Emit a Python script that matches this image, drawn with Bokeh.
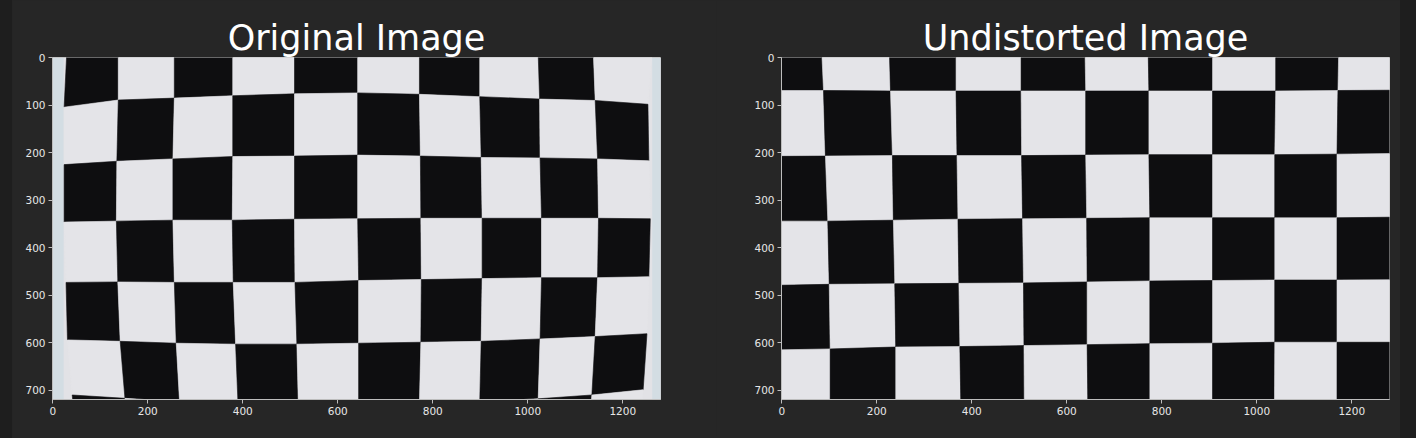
from bokeh.plotting import figure
from bokeh.layouts import row
from bokeh.models import Range1d, FixedTicker, GlobalInlineStyleSheet
from bokeh.embed import file_html
from bokeh.resources import INLINE

# Image is 1280 x 720 px, y axis runs downward like imshow
IMG_W = 1280
IMG_H = 720

titles = ["Original Image", "Undistorted Image"]
x_ticks = [0, 200, 400, 600, 800, 1000, 1200]
y_ticks = [0, 100, 200, 300, 400, 500, 600, 700]

# corner lattice of the distorted board: one list per horizontal grid line,
# one entry per vertical grid line (image px)
orig_x = [
    [31, 138, 256, 379, 509, 642, 772, 899, 1021, 1137, 1264],
    [24, 138, 256, 379, 509, 642, 772, 899, 1025, 1142, 1253],
    [24, 135, 253, 379, 509, 642, 774, 902, 1026, 1147, 1255],
    [24, 134, 253, 378, 509, 642, 775, 904, 1029, 1149, 1258],
    [28, 137, 256, 380, 510, 644, 776, 904, 1029, 1147, 1255],
    [31, 142, 260, 385, 514, 644, 775, 902, 1026, 1142, 1251],
    [41, 152, 267, 390, 517, 644, 772, 899, 1022, 1135, 1243],
    [48, 158, 272, 394, 520, 645, 770, 897, 1018, 1130, 1236],
]
orig_y = [
    [-40, -40, -40, -40, -40, -40, -40, -40, -40, -40, -40],
    [104, 89, 85, 80, 76, 74, 77, 82, 87, 90, 98],
    [225, 218, 213, 208, 207, 205, 207, 210, 211, 213, 217],
    [346, 344, 342, 342, 340, 339, 338, 338, 338, 338, 339],
    [473, 472, 473, 473, 473, 469, 467, 465, 463, 463, 461],
    [594, 597, 601, 603, 603, 601, 599, 597, 592, 587, 581],
    [710, 717, 724, 727, 729, 729, 727, 724, 718, 710, 699],
    [780, 780, 780, 780, 780, 780, 780, 780, 780, 780, 780],
]

# same board after cv2.undistort
und_x = [
    [-60, 83, 226, 367, 504, 638, 771, 907, 1040, 1173, 1340],
    [-60, 88, 229, 367, 504, 640, 773, 907, 1040, 1171, 1340],
    [-60, 92, 233, 369, 505, 640, 773, 907, 1038, 1169, 1340],
    [-60, 97, 235, 371, 507, 642, 775, 907, 1038, 1169, 1340],
    [-60, 100, 238, 373, 509, 643, 775, 907, 1038, 1169, 1340],
    [-60, 102, 240, 375, 510, 643, 775, 907, 1038, 1169, 1340],
    [-60, 102, 240, 378, 511, 645, 775, 907, 1037, 1169, 1340],
]
und_y = [
    [-40, -40, -40, -40, -40, -40, -40, -40, -40, -40, -40],
    [69, 69, 70, 70, 70, 70, 70, 70, 70, 69, 68],
    [208, 207, 206, 206, 206, 205, 204, 204, 204, 203, 201],
    [344, 344, 342, 340, 339, 338, 337, 337, 337, 337, 335],
    [480, 477, 476, 475, 474, 472, 470, 469, 468, 468, 467],
    [616, 613, 609, 608, 606, 604, 602, 601, 599, 599, 599],
    [780, 780, 780, 780, 780, 780, 780, 780, 780, 780, 780],
]

# paper edge strips (bluish) at both sides of the original photo
edge_left = [0, 23]
edge_right = [1262, 1280]

BLACK = "#0e0e10"
WHITE = "#e4e4e8"
PAPER = "#e2e2e6"
EDGE = "#d3dde3"
BG = "#262626"
OUTER = "#1e1e1e"
SPINE = "#bdbdbd"
FONT = "DejaVu Sans"


def cells(gx, gy):
    xs, ys, colors = [], [], []
    for r in range(len(gx) - 1):
        for c in range(len(gx[0]) - 1):
            xs.append([gx[r][c], gx[r][c + 1], gx[r + 1][c + 1], gx[r + 1][c]])
            ys.append([gy[r][c], gy[r][c + 1], gy[r + 1][c + 1], gy[r + 1][c]])
            colors.append(BLACK if (r + c) % 2 == 0 else WHITE)
    return xs, ys, colors


def panel(title, width, left, right):
    p = figure(width=width, height=436, title=title,
               x_range=Range1d(-0.5, IMG_W - 0.5), y_range=Range1d(IMG_H - 0.5, -0.5),
               output_backend="svg", toolbar_location=None,
               min_border_left=left, min_border_right=right,
               min_border_top=57, min_border_bottom=37)
    p.background_fill_color = BG
    p.border_fill_color = BG
    p.outline_line_color = SPINE
    p.grid.visible = False

    p.title.text_font = FONT
    p.title.text_font_size = "35px"
    p.title.text_font_style = "normal"
    p.title.text_color = "#ffffff"
    p.title.align = "center"
    p.title.standoff = 0

    p.xaxis.ticker = FixedTicker(ticks=x_ticks)
    p.yaxis.ticker = FixedTicker(ticks=y_ticks)
    for ax in (p.xaxis, p.yaxis):
        ax.axis_line_color = SPINE
        ax.major_tick_line_color = SPINE
        ax.major_tick_out = 4
        ax.major_tick_in = 0
        ax.minor_tick_line_color = None
        ax.major_label_text_font = FONT
        ax.major_label_text_font_size = "10.5px"
        ax.major_label_text_color = "#e6e6e6"
        ax.major_label_standoff = 3
    return p


# the layout starts at x=12: frame of the left panel at 52..660, right at 781..1389
p1 = panel(titles[0], 704, 40, 56)
p1.quad(left=0, right=IMG_W, top=0, bottom=IMG_H, fill_color=PAPER, line_color=None)
p1.quad(left=edge_left[0], right=edge_left[1], top=0, bottom=IMG_H, fill_color=EDGE, line_color=None)
p1.quad(left=edge_right[0], right=edge_right[1], top=0, bottom=IMG_H, fill_color=EDGE, line_color=None)
xs, ys, cols = cells(orig_x, orig_y)
p1.patches(xs, ys, fill_color=cols, line_color=cols, line_width=0.6)

p2 = panel(titles[1], 684, 65, 11)
xs, ys, cols = cells(und_x, und_y)
p2.patches(xs, ys, fill_color=cols, line_color=cols, line_width=0.6)

css = GlobalInlineStyleSheet(css=(
    "body { margin: 0; padding: 0 0 0 12px; "
    "background: linear-gradient(to right, %s 12px, %s 12px, %s 1400px, %s 1400px); }"
    % (OUTER, BG, BG, OUTER)))
layout = row(p1, p2, stylesheets=[css])

open("out.html", "w").write(file_html(layout, INLINE))
